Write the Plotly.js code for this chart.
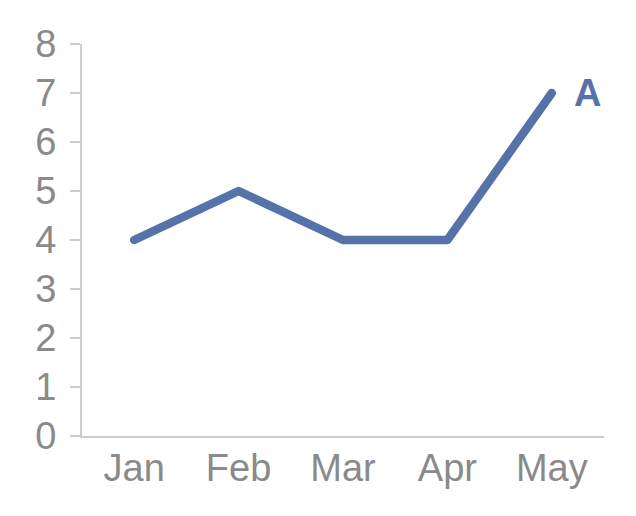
<!DOCTYPE html>
<html>
<head>
<meta charset="utf-8">
<script src="https://cdn.plot.ly/plotly-3.0.1.min.js"></script>
<style>
html,body{margin:0;padding:0;background:#fff;}
#chart{width:636px;height:516px;}
.scatterlayer path.js-line{stroke-linecap:round;stroke-linejoin:round;}
</style>
</head>
<body>
<div id="chart"></div>
<script>
const months = ["Jan", "Feb", "Mar", "Apr", "May"];
const seriesA = [4, 5, 4, 4, 7];
const seriesName = "A";
const yTicks = [0, 1, 2, 3, 4, 5, 6, 7, 8];

const blue = "#5573a8";
const grey = "#8a8a8a";
const axisGrey = "#cccccc";
const font = "Liberation Sans, Arial, Helvetica, sans-serif";

const trace = {
  x: months,
  y: seriesA,
  type: "scatter",
  mode: "lines",
  name: seriesName,
  line: {color: blue, width: 8.5},
  hoverinfo: "skip"
};

const layout = {
  width: 636,
  height: 516,
  margin: {l: 82, r: 32, t: 44, b: 80, pad: 0},
  paper_bgcolor: "#ffffff",
  plot_bgcolor: "#ffffff",
  showlegend: false,
  font: {family: font, color: grey, size: 38},
  xaxis: {
    type: "category",
    range: [-0.5, months.length - 0.5],
    showgrid: false,
    zeroline: false,
    showline: true,
    linecolor: axisGrey,
    linewidth: 2,
    ticks: "",
    tickfont: {family: font, size: 38, color: grey},
    ticklabelstandoff: -3,
    fixedrange: true
  },
  yaxis: {
    range: [0, 8],
    tickvals: yTicks,
    ticktext: yTicks.map(String),
    showgrid: false,
    zeroline: false,
    showline: true,
    linecolor: axisGrey,
    linewidth: 2,
    ticks: "outside",
    ticklen: 10,
    tickwidth: 2,
    tickcolor: axisGrey,
    tickfont: {family: font, size: 38, color: grey},
    ticklabelstandoff: 6,
    fixedrange: true
  },
  annotations: [{
    x: months[months.length - 1],
    y: seriesA[seriesA.length - 1],
    xref: "x",
    yref: "y",
    text: "<b>" + seriesName + "</b>",
    showarrow: false,
    xanchor: "left",
    yanchor: "middle",
    xshift: 20,
    font: {family: font, size: 38, color: blue}
  }]
};

Plotly.newPlot("chart", [trace], layout, {displayModeBar: false, staticPlot: true});
</script>
</body>
</html>
